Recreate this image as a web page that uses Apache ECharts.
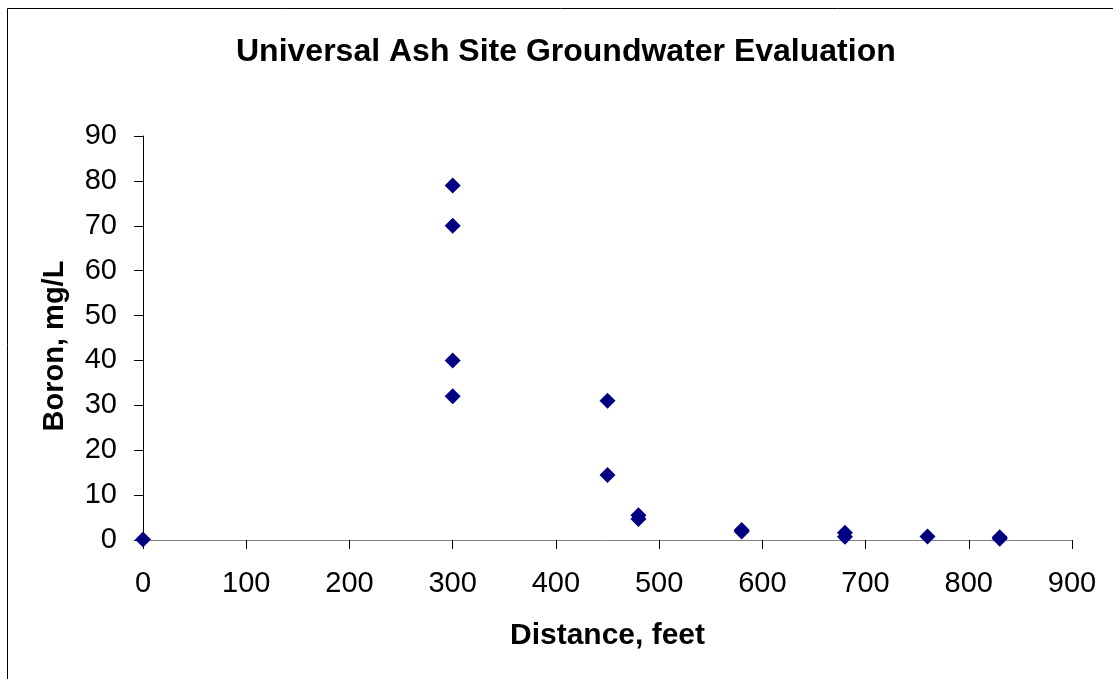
<!DOCTYPE html>
<html>
<head>
<meta charset="utf-8">
<script src="https://cdn.jsdelivr.net/npm/echarts@6/dist/echarts.min.js"></script>
<style>
  html, body { margin: 0; padding: 0; background: #fff; }
  #chart { width: 1113px; height: 679px; }
</style>
</head>
<body>
<div id="chart"></div>
<script>
// distance (feet) and boron (mg/L)
const distance = [0, 300, 300, 300, 300, 450, 450, 480, 480, 580, 580, 680, 680, 760, 830, 830]
const boron = [0.1, 79, 70, 40, 32, 31, 14.5, 5.5, 4.7, 2.2, 1.9, 1.6, 0.7, 0.8, 0.6, 0.3]
const xTicks = [0, 100, 200, 300, 400, 500, 600, 700, 800, 900]
const yTicks = [0, 10, 20, 30, 40, 50, 60, 70, 80, 90]

const points = distance.map((d, i) => [d, boron[i]])

var myChart = echarts.init(document.getElementById('chart'))
const font = '"Liberation Sans", Arial, sans-serif'

const option = {
  animation: false,
  title: {
    text: 'Universal Ash Site Groundwater Evaluation',
    left: 231,
    top: 31,
    textStyle: { fontFamily: font, fontSize: 32, fontWeight: 'bold', color: '#000' },
  },
  graphic: [
    {
      // outer chart border
      type: 'rect',
      shape: { x: 7.5, y: 8.5, width: 1120, height: 700 },
      style: { fill: 'none', stroke: '#000', lineWidth: 1 },
      silent: true,
    },
  ],
  grid: { left: 143, right: 41, top: 136, bottom: 139 },
  xAxis: {
    type: 'value',
    min: xTicks[0],
    max: xTicks[xTicks.length - 1],
    interval: 100,
    name: 'Distance, feet',
    nameLocation: 'middle',
    nameGap: 81,
    nameTextStyle: { fontFamily: font, fontSize: 30, fontWeight: 'bold', color: '#000' },
    axisLine: { lineStyle: { color: '#808080', width: 1 } },
    axisTick: { show: true, length: 9, inside: false, lineStyle: { color: '#000' } },
    axisLabel: { margin: 29, fontFamily: font, fontSize: 29, color: '#000' },
    splitLine: { show: false },
  },
  yAxis: {
    type: 'value',
    min: yTicks[0],
    max: yTicks[yTicks.length - 1],
    interval: 10,
    name: 'Boron, mg/L',
    nameLocation: 'middle',
    nameGap: 74,
    nameTextStyle: { fontFamily: font, fontSize: 29, fontWeight: 'bold', color: '#000', padding: [0, 16, 0, 0] },
    axisLine: { show: true, lineStyle: { color: '#000', width: 1 } },
    axisTick: { show: true, length: 9, inside: false, lineStyle: { color: '#000' } },
    axisLabel: { margin: 26, fontFamily: font, fontSize: 29, color: '#000' },
    splitLine: { show: false },
  },
  series: [
    {
      type: 'scatter',
      data: points,
      symbol: 'diamond',
      symbolSize: 16,
      itemStyle: { color: '#000080', opacity: 1 },
      z: 5,
    },
  ],
}
option && myChart.setOption(option)
</script>
</body>
</html>
